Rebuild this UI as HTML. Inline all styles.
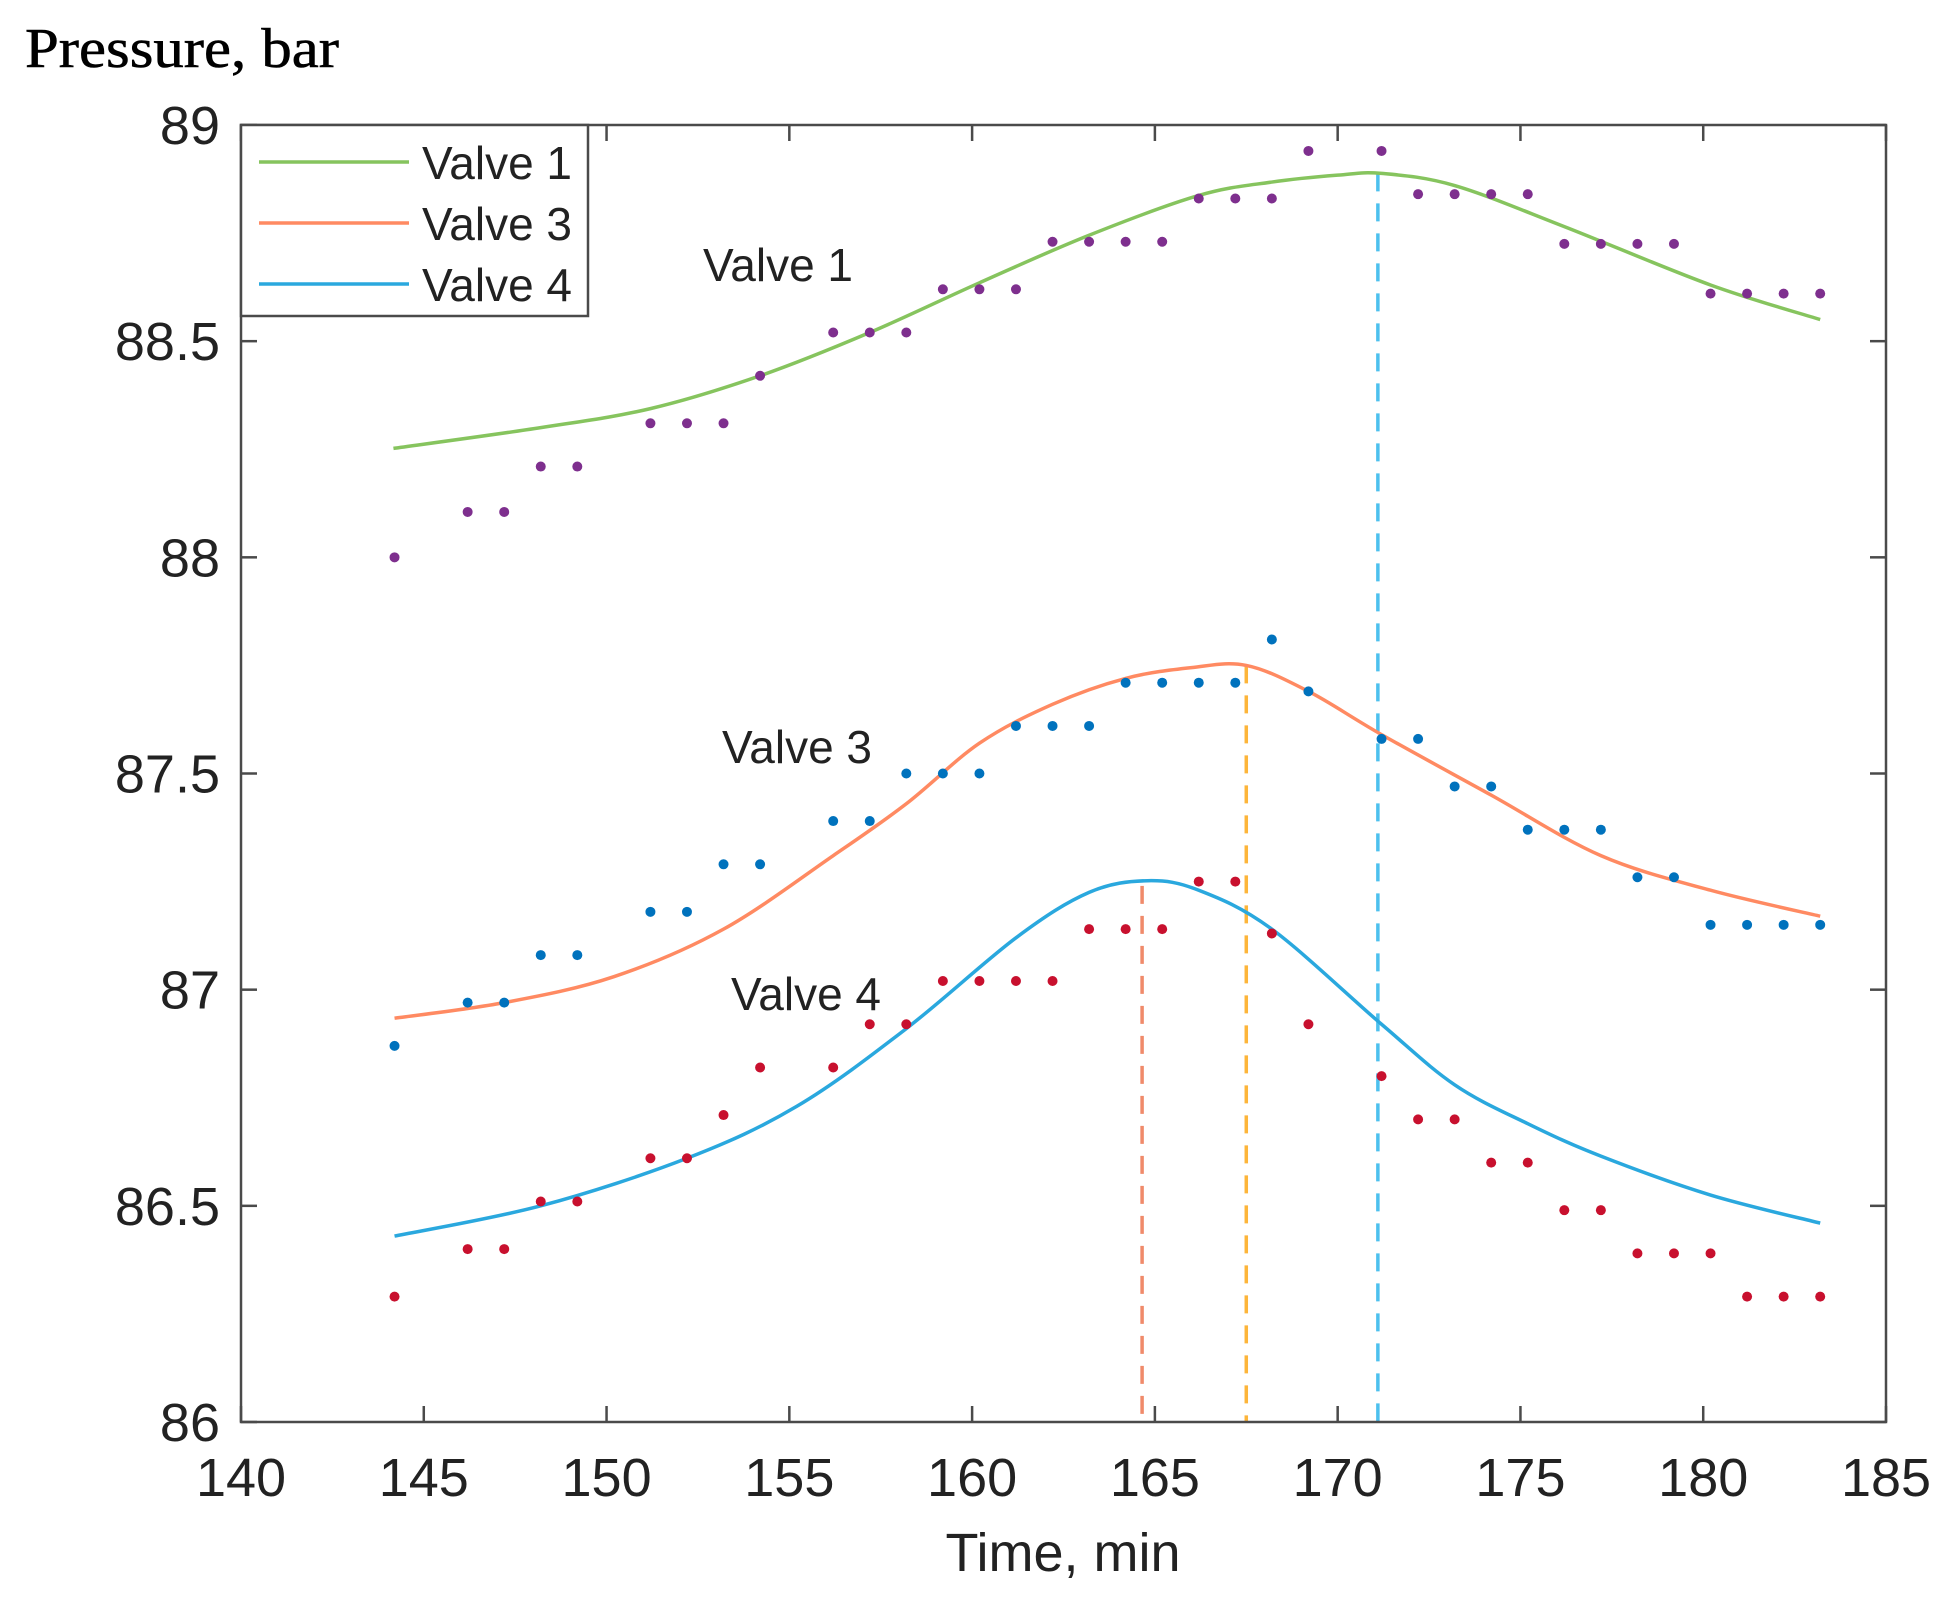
<!DOCTYPE html>
<html><head><meta charset="utf-8"><style>
html,body{margin:0;padding:0;background:#fff;}
svg{display:block;}
</style></head><body>
<svg id="s" width="1942" height="1601" xmlns="http://www.w3.org/2000/svg">
<rect width="1942" height="1601" fill="#fff"/>
<text x="25" y="67" font-family="Liberation Serif, serif" font-size="56" fill="#000" stroke="#000" stroke-width="0.6" textLength="314" lengthAdjust="spacingAndGlyphs">Pressure, bar</text>
<g id="plot"></g>
</svg>
<script>
const L=241,R=1886,T=125,B=1422;
const X=v=>L+(v-140)*(R-L)/45, Y=v=>B-(v-86)*(B-T)/3;
const g=document.getElementById('plot');
let h='';
function cr(pts){pts=pts.map(p=>[X(p[0]),Y(p[1])]);let d='M'+pts[0][0]+' '+pts[0][1];
for(let i=0;i<pts.length-1;i++){const p0=pts[Math.max(0,i-1)],p1=pts[i],p2=pts[i+1],p3=pts[Math.min(pts.length-1,i+2)];
d+=` C${p1[0]+(p2[0]-p0[0])/6} ${p1[1]+(p2[1]-p0[1])/6} ${p2[0]-(p3[0]-p1[0])/6} ${p2[1]-(p3[1]-p1[1])/6} ${p2[0]} ${p2[1]}`;}return d;}
h+=`<line x1="${X(164.65)}" y1="${Y(87.24)}" x2="${X(164.65)}" y2="${B}" stroke="#F08A6A" stroke-width="3.5" stroke-dasharray="18 12"/>`;
h+=`<line x1="${X(167.5)}" y1="${Y(87.75)}" x2="${X(167.5)}" y2="${B}" stroke="#FDB53A" stroke-width="3.5" stroke-dasharray="18 12"/>`;
h+=`<line x1="${X(171.1)}" y1="${Y(88.888)}" x2="${X(171.1)}" y2="${B}" stroke="#4DC0EE" stroke-width="3.5" stroke-dasharray="18 12"/>`;
const green=[[144.17,88.252],[148.2,88.3],[151.2,88.344],[154.2,88.42],[157.2,88.52],[160.2,88.635],[163.2,88.745],[166.2,88.837],[168.2,88.868],[170,88.884],[171.2,88.888],[173.2,88.86],[176.2,88.765],[180.2,88.63],[183.2,88.55]];
const orange=[[144.2,86.934],[147.2,86.97],[150.2,87.03],[153.2,87.14],[156.2,87.31],[158.2,87.43],[160.2,87.57],[162.2,87.66],[164.2,87.72],[166,87.745],[167.5,87.75],[169.2,87.69],[171.2,87.59],[174.2,87.45],[177.2,87.31],[180.2,87.23],[183.2,87.17]];
const blue=[[144.2,86.43],[148.2,86.5],[152.2,86.61],[155.2,86.73],[158.2,86.91],[161.2,87.12],[163.2,87.225],[164.8,87.252],[166.2,87.23],[168.2,87.14],[171.2,86.92],[173.2,86.78],[175.2,86.69],[177.2,86.615],[180.2,86.525],[183.2,86.46]];
h+=`<path d="${cr(green)}" fill="none" stroke="#86C45E" stroke-width="3.5"/>`;
h+=`<path d="${cr(orange)}" fill="none" stroke="#FF8A62" stroke-width="3.5"/>`;
h+=`<path d="${cr(blue)}" fill="none" stroke="#2AA8DE" stroke-width="3.5"/>`;
function dots(arr,c){arr.forEach(p=>{h+=`<circle cx="${X(p[0])}" cy="${Y(p[1])}" r="5" fill="${c}"/>`;});}
const P=[[144.2,88],[146.2,88.105],[147.2,88.105],[148.2,88.21],[149.2,88.21],[151.2,88.31],[152.2,88.31],[153.2,88.31],[154.2,88.42],[156.2,88.52],[157.2,88.52],[158.2,88.52],[159.2,88.62],[160.2,88.62],[161.2,88.62],[162.2,88.73],[163.2,88.73],[164.2,88.73],[165.2,88.73],[166.2,88.83],[167.2,88.83],[168.2,88.83],[169.2,88.94],[171.2,88.94],[172.2,88.84],[173.2,88.84],[174.2,88.84],[175.2,88.84],[176.2,88.725],[177.2,88.725],[178.2,88.725],[179.2,88.725],[180.2,88.61],[181.2,88.61],[182.2,88.61],[183.2,88.61]];
const Bd=[[144.2,86.87],[146.2,86.97],[147.2,86.97],[148.2,87.08],[149.2,87.08],[151.2,87.18],[152.2,87.18],[153.2,87.29],[154.2,87.29],[156.2,87.39],[157.2,87.39],[158.2,87.5],[159.2,87.5],[160.2,87.5],[161.2,87.61],[162.2,87.61],[163.2,87.61],[164.2,87.71],[165.2,87.71],[166.2,87.71],[167.2,87.71],[168.2,87.81],[169.2,87.69],[171.2,87.58],[172.2,87.58],[173.2,87.47],[174.2,87.47],[175.2,87.37],[176.2,87.37],[177.2,87.37],[178.2,87.26],[179.2,87.26],[180.2,87.15],[181.2,87.15],[182.2,87.15],[183.2,87.15]];
const Rd=[[144.2,86.29],[146.2,86.4],[147.2,86.4],[148.2,86.51],[149.2,86.51],[151.2,86.61],[152.2,86.61],[153.2,86.71],[154.2,86.82],[156.2,86.82],[157.2,86.92],[158.2,86.92],[159.2,87.02],[160.2,87.02],[161.2,87.02],[162.2,87.02],[163.2,87.14],[164.2,87.14],[165.2,87.14],[166.2,87.25],[167.2,87.25],[168.2,87.13],[169.2,86.92],[171.2,86.8],[172.2,86.7],[173.2,86.7],[174.2,86.6],[175.2,86.6],[176.2,86.49],[177.2,86.49],[178.2,86.39],[179.2,86.39],[180.2,86.39],[181.2,86.29],[182.2,86.29],[183.2,86.29]];
dots(P,'#7E2F8E');dots(Bd,'#0072BD');dots(Rd,'#C8102E');
const ax='#4a4a4a';
h+=`<rect x="${L}" y="${T}" width="${R-L}" height="${B-T}" fill="none" stroke="${ax}" stroke-width="2.5"/>`;
const F='font-family="Liberation Sans, Arial, sans-serif" fill="#222"';
for(let v=140;v<=185;v+=5){const x=X(v);
h+=`<line x1="${x}" y1="${B}" x2="${x}" y2="${B-16}" stroke="${ax}" stroke-width="2.5"/><line x1="${x}" y1="${T}" x2="${x}" y2="${T+16}" stroke="${ax}" stroke-width="2.5"/>`;
h+=`<text x="${x}" y="1496" text-anchor="middle" font-size="54" ${F}>${v}</text>`;}
for(let i=0;i<=6;i++){const v=86+i*0.5,y=Y(v);
h+=`<line x1="${L}" y1="${y}" x2="${L+16}" y2="${y}" stroke="${ax}" stroke-width="2.5"/><line x1="${R}" y1="${y}" x2="${R-16}" y2="${y}" stroke="${ax}" stroke-width="2.5"/>`;
h+=`<text x="220" y="${y+19}" text-anchor="end" font-size="54" ${F}>${v}</text>`;}
h+=`<text x="1063" y="1571" text-anchor="middle" font-size="54" ${F}>Time, min</text>`;
h+=`<text x="703" y="281" font-size="46" ${F}>Valve 1</text>`;
h+=`<text x="722" y="763" font-size="46" ${F}>Valve 3</text>`;
h+=`<text x="731" y="1010" font-size="46" ${F}>Valve 4</text>`;
h+=`<rect x="${L}" y="${T}" width="347" height="191" fill="#fff" stroke="${ax}" stroke-width="2.5"/>`;
[['Valve 1','#86C45E',162],['Valve 3','#FF8A62',223],['Valve 4','#2AA8DE',284]].forEach(a=>{
h+=`<line x1="259" y1="${a[2]}" x2="409" y2="${a[2]}" stroke="${a[1]}" stroke-width="3.5"/>`;
h+=`<text x="422" y="${a[2]+17}" font-size="46" ${F}>${a[0]}</text>`;});
g.innerHTML=h;
</script>
</body></html>
